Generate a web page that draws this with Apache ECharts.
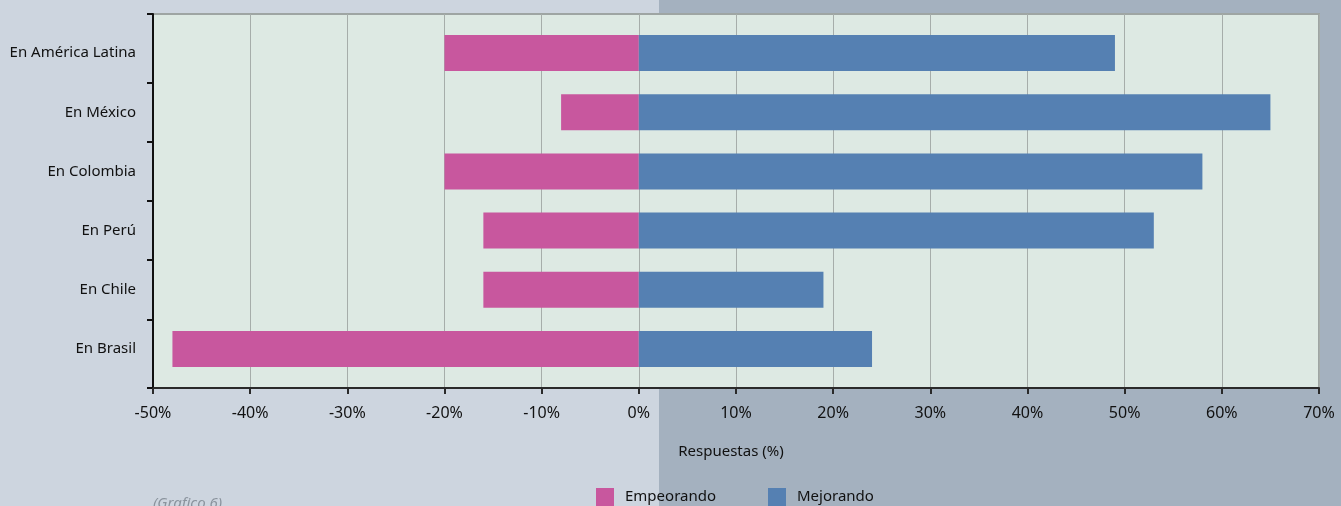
<!DOCTYPE html>
<html>
<head>
<meta charset="utf-8">
<script src="https://cdn.jsdelivr.net/npm/echarts@6/dist/echarts.min.js"></script>
<style>
  html, body { margin: 0; padding: 0; }
  #chart {
    width: 1341px;
    height: 506px;
    background: linear-gradient(to right, #cdd5df 0, #cdd5df 659px, #a4b1bf 659px, #a4b1bf 100%);
  }
</style>
</head>
<body>
<div id="chart"></div>
<script>
// categorías (de arriba a abajo)
const categories = ['En América Latina', 'En México', 'En Colombia', 'En Perú', 'En Chile', 'En Brasil']
// porcentajes
const empeorando = [-20, -8, -20, -16, -16, -48]
const mejorando = [49, 65, 58, 53, 19, 24]
const xTicks = { min: -50, max: 70, interval: 10 }

const font = '"Noto Sans", sans-serif'
const chart = echarts.init(document.getElementById('chart'))

// el marco deja un pequeño margen encima y debajo de las categorías
const pad = 0.16
const yMin = -0.5 - pad
const yMax = categories.length - 0.5 + pad
// marcas del eje Y: extremos del marco y separaciones entre categorías
const yTickValues = [yMin].concat(categories.slice(1).map((c, i) => i + 0.5), [yMax])

// grid 0: marco, ejes visibles
// grid 1: misma anchura, un poco más bajo, lleva barras y etiquetas
const option = {
  animation: false,
  textStyle: { fontFamily: font },
  grid: [
    {
      left: 153,
      right: 22,
      top: 14,
      bottom: 118,
      show: true,
      backgroundColor: '#dde9e3',
      borderColor: '#9ea5a3',
      borderWidth: 2
    },
    {
      left: 153,
      right: 22,
      top: 23.5,
      bottom: 127.5
    }
  ],
  legend: {
    left: 596,
    top: 488,
    padding: 0,
    itemWidth: 18,
    itemHeight: 18,
    itemGap: 52,
    icon: 'rect',
    textStyle: { fontSize: 15, color: '#111', fontFamily: font, padding: [0, 0, 0, 6] },
    data: ['Empeorando', 'Mejorando']
  },
  xAxis: [
    {
      gridIndex: 0,
      type: 'value',
      min: xTicks.min,
      max: xTicks.max,
      interval: xTicks.interval,
      name: 'Respuestas (%)',
      nameLocation: 'middle',
      nameGap: 56,
      nameTextStyle: { fontSize: 15, color: '#111', fontFamily: font, padding: [0, 10, 0, 0] },
      axisLine: { show: true, onZero: false, lineStyle: { color: '#2a2a2a', width: 2 } },
      axisTick: { show: true, length: 6, lineStyle: { color: '#2a2a2a', width: 2 } },
      axisLabel: {
        formatter: v => v + '%',
        fontSize: 16,
        color: '#111',
        margin: 17
      },
      splitLine: { show: true, lineStyle: { color: '#a6adaa', width: 1 } }
    },
    {
      gridIndex: 1,
      type: 'value',
      min: xTicks.min,
      max: xTicks.max,
      interval: xTicks.interval,
      show: false
    }
  ],
  yAxis: [
    {
      gridIndex: 0,
      type: 'value',
      inverse: true,
      min: yMin,
      max: yMax,
      axisLine: { show: true, onZero: false, lineStyle: { color: '#111', width: 2 } },
      axisTick: {
        show: true,
        length: 6,
        customValues: yTickValues,
        lineStyle: { color: '#111', width: 2 }
      },
      axisLabel: { show: false },
      splitLine: { show: false }
    },
    {
      gridIndex: 1,
      type: 'category',
      data: categories,
      inverse: true,
      axisLine: { show: false, onZero: false },
      axisTick: { show: false },
      axisLabel: { fontSize: 15, color: '#111', margin: 17 },
      splitLine: { show: false }
    }
  ],
  series: [
    {
      name: 'Empeorando',
      type: 'bar',
      xAxisIndex: 1,
      yAxisIndex: 1,
      stack: 'total',
      barWidth: 36,
      data: empeorando,
      itemStyle: { color: '#c8579e' }
    },
    {
      name: 'Mejorando',
      type: 'bar',
      xAxisIndex: 1,
      yAxisIndex: 1,
      stack: 'total',
      barWidth: 36,
      data: mejorando,
      itemStyle: { color: '#5580b2' }
    }
  ],
  graphic: [
    {
      type: 'text',
      left: 153,
      top: 496,
      style: {
        text: '(Grafico 6)',
        fontSize: 15,
        fontStyle: 'italic',
        fill: '#8a939d',
        fontFamily: font
      }
    }
  ]
}

chart.setOption(option)
</script>
</body>
</html>
